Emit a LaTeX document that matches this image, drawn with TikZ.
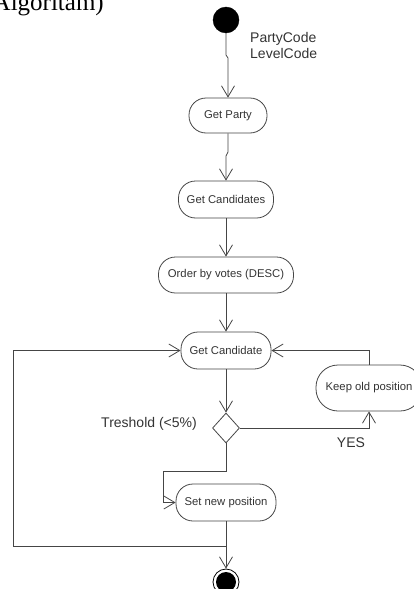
\documentclass[tikz,border=0pt]{standalone}
\usepackage{fontspec}
\setmainfont{Liberation Sans}
\newfontfamily\serifft{Liberation Serif}
\usetikzlibrary{arrows.meta,shapes.geometric}
\definecolor{linec}{HTML}{454545}
\definecolor{txtc}{HTML}{333333}
\begin{document}
\begin{tikzpicture}[x=1pt,y=-1pt,
  act/.style={draw=linec, line width=0.8pt, rounded corners=17pt, inner sep=0pt,
    text=txtc, font=\fontsize{11.3}{13}\selectfont},
  flow/.style={draw=linec, line width=0.8pt, -{Straight Barb[length=11pt,width=13pt]}},
  lbl/.style={text=txtc, font=\fontsize{14}{16.5}\selectfont, inner sep=0pt}]
\useasboundingbox (0,0) rectangle (414,589);
\node[anchor=base east, inner sep=0pt, font=\serifft\fontsize{25}{28}\selectfont] (title) at (104,10) {Algoritam)};
\node[circle, fill=black, draw=black, minimum size=26pt, inner sep=0pt] (start) at (226,20) {};
\node[lbl, anchor=north west, align=left] (pc) at (250,32) {PartyCode\\LevelCode};
\node[act, minimum width=78pt, minimum height=35pt] (gp) at (228,115.5) {Get Party};
\node[act, minimum width=95pt, minimum height=37pt] (gc) at (226,199.5) {Get Candidates};
\node[act, minimum width=135pt, minimum height=36pt] (ob) at (226,275) {Order by votes (DESC)};
\node[act, minimum width=90pt, minimum height=37pt] (gcand) at (226,350.5) {Get Candidate};
\node[act, minimum width=106pt, minimum height=46pt, rounded corners=22pt] (keep) at (369,388) {Keep old position};
\node[diamond, draw=linec, line width=0.8pt, minimum width=27pt, minimum height=30pt, inner sep=0pt] (dec) at (226,428) {};
\node[lbl, anchor=east] (tre) at (197,424) {Treshold (<5\%)};
\node[lbl] (yes) at (351,443) {YES};
\node[act, minimum width=100pt, minimum height=37pt] (snp) at (226,502.5) {Set new position};
\node[circle, draw=black, line width=0.8pt, minimum size=26pt, inner sep=0pt] (end) at (226,582) {};
\fill[black] (end.center) circle (10pt);
\coordinate (j1) at (226,55);
\coordinate (j2) at (228,58);
\coordinate (j3) at (228,152);
\coordinate (j4) at (226,156);
\coordinate (j5) at (163,471);
\coordinate (join) at (226,546);
\coordinate (lc) at (13,546);
\draw[flow] (start.south) -- (j1) -- (j2) -- (gp.north);
\draw[flow] (gp.south) -- (j3) -- (j4) -- (gc.north);
\draw[flow] (gc) -- (ob);
\draw[flow] (ob) -- (gcand);
\draw[flow] (gcand) -- (dec);
\draw[flow] (dec.east) -| (keep.south);
\draw[flow] (keep.north) |- (gcand.east);
\draw[flow] (dec.south) |- (j5) |- (snp.west);
\draw[flow] (snp) -- (end);
\draw[flow] (join) -- (lc) |- (gcand.west);
\end{tikzpicture}
\end{document}
